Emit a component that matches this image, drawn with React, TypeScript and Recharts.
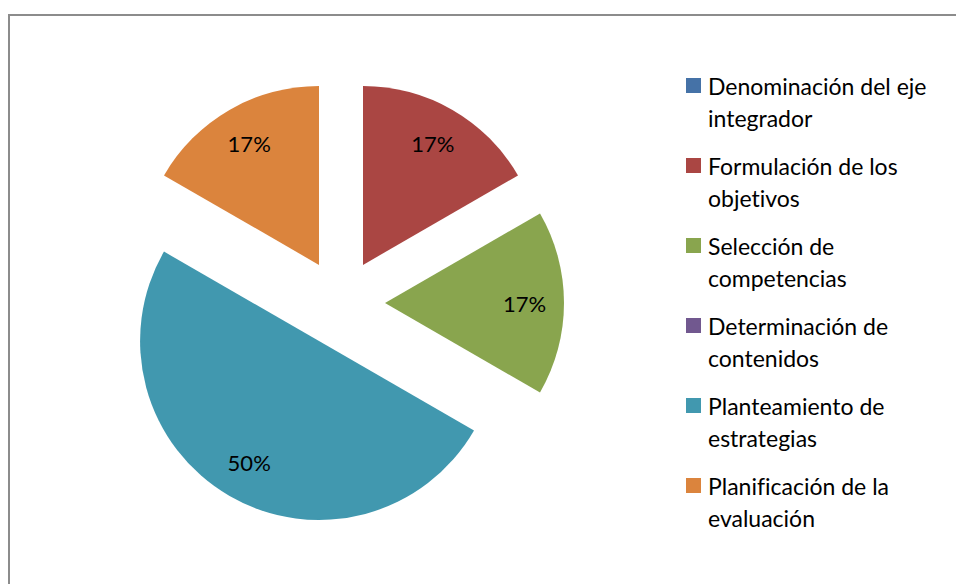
import React from 'react';
import { PieChart, Pie, Cell, Legend, Sector } from 'recharts';

const categories = [
  'Denominación del eje integrador',
  'Formulación de los objetivos',
  'Selección de competencias',
  'Determinación de contenidos',
  'Planteamiento de estrategias',
  'Planificación de la evaluación',
];
const values = [0, 1, 1, 0, 3, 1];
const colors = ['#4572A7', '#AA4643', '#89A54E', '#71588F', '#4198AF', '#DB843D'];

const data = categories.map((name, i) => ({ name, value: values[i] }));

const RAD = Math.PI / 180;
const EXPLODE = 44;
const FONT = 'Lato, "Open Sans", sans-serif';

const renderSlice = (props: any) => {
  const { cx, cy, midAngle, innerRadius, outerRadius, startAngle, endAngle, value, percent, index } = props;
  if (!value) return null;
  const ux = Math.cos(-midAngle * RAD);
  const uy = Math.sin(-midAngle * RAD);
  const sx = cx + EXPLODE * ux;
  const sy = cy + EXPLODE * uy;
  const lr = outerRadius * 0.78;
  const lx = sx + lr * ux;
  const ly = sy + lr * uy;
  return (
    <g key={`slice-${index}`}>
      <Sector
        cx={sx}
        cy={sy}
        innerRadius={innerRadius}
        outerRadius={outerRadius}
        startAngle={startAngle}
        endAngle={endAngle}
        fill={colors[index]}
        stroke="none"
      />
      <text
        x={lx}
        y={ly}
        textAnchor="middle"
        dominantBaseline="central"
        fill="#000"
        style={{ fontFamily: FONT, fontSize: 22 }}
      >
        {`${Math.round(percent * 100)}%`}
      </text>
    </g>
  );
};

const renderLegend = (props: any) => {
  const payload = props.payload || [];
  return (
    <div style={{ fontFamily: FONT, fontSize: 23, color: '#000', fontVariantLigatures: 'none' }}>
      {payload.map((p: any, i: number) => {
        const idx = categories.indexOf(p.value);
        return (
          <div key={i} style={{ position: 'relative', height: 80 }}>
            <span
              style={{
                position: 'absolute',
                left: 0,
                top: 8,
                width: 15,
                height: 15,
                background: idx >= 0 ? colors[idx] : p.color,
              }}
            />
            <div style={{ marginLeft: 22, lineHeight: '32px', width: 250 }}>{p.value}</div>
          </div>
        );
      })}
    </div>
  );
};

export default function App() {
  return (
    <div
      style={{
        position: 'absolute',
        left: 0,
        top: 0,
        width: 956,
        height: 584,
        overflow: 'hidden',
        background: '#fff',
      }}
    >
      <div
        style={{
          position: 'absolute',
          left: 8,
          top: 14,
          width: 1000,
          height: 1000,
          border: '2px solid #8c8c8c',
        }}
      />
      <PieChart width={956} height={584} margin={{ top: 0, right: 0, bottom: 0, left: 0 }}>
        <Pie
          data={data}
          dataKey="value"
          nameKey="name"
          cx={341}
          cy={303}
          outerRadius={179}
          startAngle={90}
          endAngle={-270}
          stroke="none"
          label={renderSlice}
          labelLine={false}
          isAnimationActive={false}
        >
          {data.map((_, i) => (
            <Cell key={i} fill={colors[i]} fillOpacity={0} stroke="none" />
          ))}
        </Pie>
        <Legend
          layout="vertical"
          align="center"
          verticalAlign="middle"
          itemSorter={null as any}
          content={renderLegend}
          wrapperStyle={{ left: 686, top: 70, width: 270 }}
        />
      </PieChart>
    </div>
  );
}
